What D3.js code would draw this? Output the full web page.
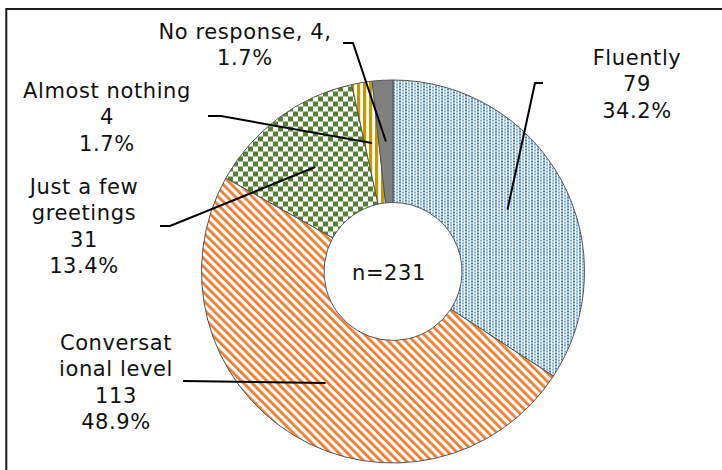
<!DOCTYPE html>
<html>
<head>
<meta charset="utf-8">
<script src="https://cdn.jsdelivr.net/npm/d3@7"></script>
<style>
  body { margin: 0; background: #fff; }
  text { font-family: "DejaVu Sans", sans-serif; fill: #111; }
</style>
</head>
<body>
<svg id="chart"></svg>
<script>
// data
const categories = ["Fluently", "Conversational level", "Just a few greetings", "Almost nothing", "No response"];
const counts = [79, 113, 31, 4, 4];
const percents = ["34.2%", "48.9%", "13.4%", "1.7%", "1.7%"];
const labelLines = [
    ["Fluently", "79", "34.2%"],
    ["Conversat", "ional level", "113", "48.9%"],
    ["Just a few", "greetings", "31", "13.4%"],
    ["Almost nothing", "4", "1.7%"],
    ["No response, 4,", "1.7%"]
];
const centerLabel = "n=231";

// layout (not data)
const width = 722, height = 470;
const cx = 393, cy = 271.5;
const outerR = 191.5, innerR = 69;
const lineH = 26.3;
const labelPos = [
    { x: 637, y: 65 },
    { x: 116, y: 350 },
    { x: 84, y: 194 },
    { x: 107, y: 98 },
    { x: 245, y: 39 }
];
// leader elbows: start point, then horizontal to second point, then to slice centroid
const leaderPts = [
    [[543, 83], [535, 83]],
    [[183, 381], [183, 381]],
    [[160, 226], [170, 226]],
    [[208, 116], [221, 116]],
    [[343, 43], [353, 43]]
];

const svg = d3.select("#chart")
    .attr("width", width)
    .attr("height", height);

// fill patterns
const defs = svg.append("defs");

const pBlue = defs.append("pattern").attr("id", "pBlue")
    .attr("patternUnits", "userSpaceOnUse").attr("width", 6).attr("height", 3);
pBlue.append("rect").attr("width", 6).attr("height", 3).attr("fill", "#fff");
pBlue.append("rect").attr("x", 0).attr("y", 0).attr("width", 2).attr("height", 2).attr("fill", "#3a7fc4");
pBlue.append("rect").attr("x", 3).attr("y", 1).attr("width", 2).attr("height", 2).attr("fill", "#79ade0");

const pOrange = defs.append("pattern").attr("id", "pOrange")
    .attr("patternUnits", "userSpaceOnUse").attr("width", 6).attr("height", 6)
    .attr("patternTransform", "rotate(-45)");
pOrange.append("rect").attr("width", 6).attr("height", 6).attr("fill", "#fff");
pOrange.append("rect").attr("width", 2.8).attr("height", 6).attr("fill", "#ed7d31");

const pGreen = defs.append("pattern").attr("id", "pGreen")
    .attr("patternUnits", "userSpaceOnUse").attr("width", 10).attr("height", 10);
pGreen.append("rect").attr("width", 10).attr("height", 10).attr("fill", "#fff");
pGreen.append("rect").attr("width", 5).attr("height", 5).attr("fill", "#548235");
pGreen.append("rect").attr("x", 5).attr("y", 5).attr("width", 5).attr("height", 5).attr("fill", "#548235");

const pGold = defs.append("pattern").attr("id", "pGold")
    .attr("patternUnits", "userSpaceOnUse").attr("width", 6).attr("height", 6);
pGold.append("rect").attr("width", 6).attr("height", 6).attr("fill", "#fff");
pGold.append("rect").attr("width", 3.2).attr("height", 6).attr("fill", "#c49a00");

const fills = ["url(#pBlue)", "url(#pOrange)", "url(#pGreen)", "url(#pGold)", "#808080"];

// frame (only top and left edges fall inside the picture)
svg.append("rect")
    .attr("x", 6.3).attr("y", 9)
    .attr("width", 800).attr("height", 600)
    .attr("fill", "none")
    .attr("stroke", "#1a1a1a")
    .attr("stroke-width", 2);

const pie = d3.pie().sort(null).value(d => d);
const arcs = pie(counts);
const arc = d3.arc().innerRadius(innerR).outerRadius(outerR);

const g = svg.append("g").attr("transform", `translate(${cx},${cy})`);

g.selectAll("path.slice")
    .data(arcs)
    .join("path")
    .attr("class", "slice")
    .attr("d", arc)
    .attr("fill", (d, i) => fills[i])
    .attr("stroke", "#555")
    .attr("stroke-width", 1);

// leader lines to slice centroids
svg.selectAll("polyline.leader")
    .data(arcs)
    .join("polyline")
    .attr("class", "leader")
    .attr("points", (d, i) => {
        const c = arc.centroid(d);
        const pts = leaderPts[i].concat([[cx + c[0], cy + c[1]]]);
        return pts.map(p => p.join(",")).join(" ");
    })
    .attr("fill", "none")
    .attr("stroke", "#000")
    .attr("stroke-width", 2);

// labels
const labels = svg.selectAll("text.lbl")
    .data(labelLines)
    .join("text")
    .attr("class", "lbl")
    .attr("text-anchor", "middle")
    .attr("font-size", 21)
    .attr("letter-spacing", 0.6);

labels.each(function (lines, i) {
    d3.select(this).selectAll("tspan")
        .data(lines)
        .join("tspan")
        .attr("x", labelPos[i].x)
        .attr("y", (t, j) => labelPos[i].y + j * lineH)
        .text(t => t);
});

svg.append("text")
    .attr("x", cx - 4)
    .attr("y", cy + 8.5)
    .attr("text-anchor", "middle")
    .attr("font-size", 21)
    .attr("letter-spacing", 0.6)
    .text(centerLabel);
</script>
</body>
</html>
